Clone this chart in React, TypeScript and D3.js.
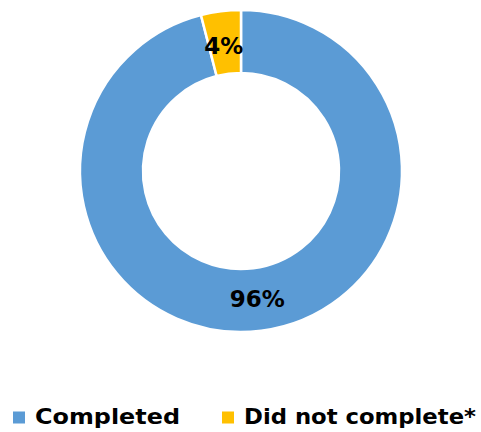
import React from "react";
import * as d3 from "d3";

const categories = ["Completed", "Did not complete*"];
const values = [96, 4];
const labels = ["96%", "4%"];
const colors = ["#5B9BD5", "#FFC000"];

const W = 481;
const H = 432;
const cx = 241;
const cy = 171;
const outerR = 161;
const innerR = 98;
const font = "'DejaVu Sans', sans-serif";

export default function App() {
  const pie = d3.pie<number>().sort(null).value((d) => d)(values);
  const arc = d3.arc<d3.PieArcDatum<number>>().innerRadius(innerR).outerRadius(outerR);
  const legendX = [13, 222];
  const legendLen = [145, 232];
  return (
    <svg width={W} height={H} style={{ position: "absolute", left: 0, top: 0 }}>
      <rect width={W} height={H} fill="#fff" />
      <g transform={`translate(${cx},${cy})`}>
        {pie.map((p, i) => (
          <path key={i} d={arc(p) || ""} fill={colors[i]} stroke="#fff" strokeWidth={2.5} />
        ))}
        {pie.map((p, i) => {
          const [x, y] = arc.centroid(p);
          return (
            <text
              key={"l" + i}
              x={x - (i === 1 ? 1 : 0)}
              y={y + (i === 1 ? 3 : 0)}
              textAnchor="middle"
              dominantBaseline="central"
              fontFamily={font}
              fontWeight={700}
              fontSize={23}
              fill="#000"
            >
              {labels[i]}
            </text>
          );
        })}
      </g>
      {categories.map((c, i) => (
        <g key={c} transform={`translate(${legendX[i]},417)`}>
          <rect x={0} y={-5.5} width={12} height={12} fill={colors[i]} />
          <text
            x={22}
            y={-1}
            dominantBaseline="central"
            fontFamily={font}
            fontWeight={700}
            fontSize={22}
            textLength={legendLen[i]}
            lengthAdjust="spacingAndGlyphs"
            fill="#000"
          >
            {c}
          </text>
        </g>
      ))}
    </svg>
  );
}
